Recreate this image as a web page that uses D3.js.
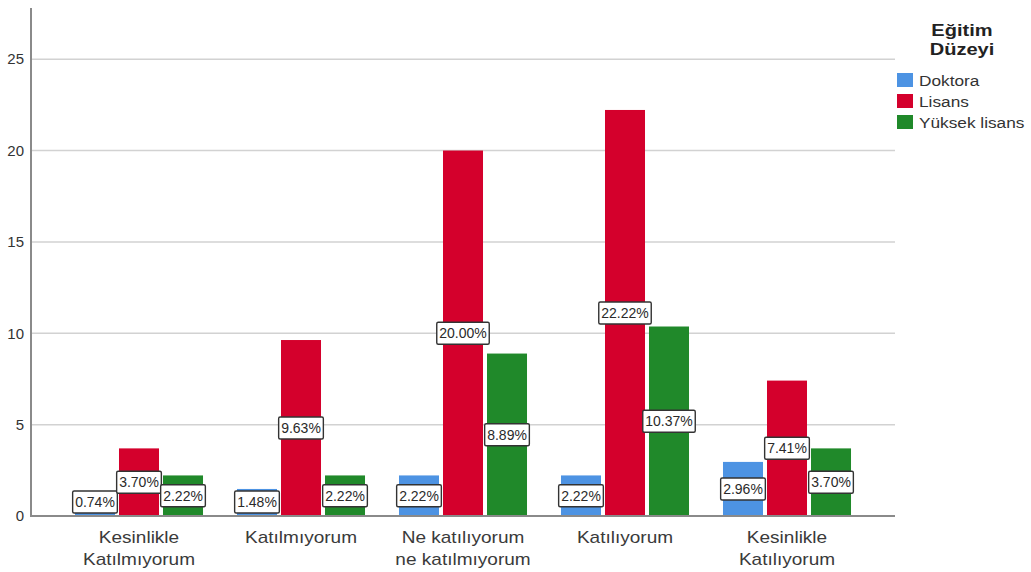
<!DOCTYPE html>
<html><head><meta charset="utf-8">
<script src="https://cdn.jsdelivr.net/npm/d3@7"></script>
<style>
html,body{margin:0;padding:0;background:#fff;}
svg{display:block;font-family:"Liberation Sans",Arial,sans-serif;}
</style></head>
<body>
<svg id="chart" width="1031" height="572"></svg>
<script>
const categories = [["Kesinlikle","Katılmıyorum"],["Katılmıyorum"],["Ne katılıyorum","ne katılmıyorum"],["Katılıyorum"],["Kesinlikle","Katılıyorum"]];
const categoryKeys = ["KK","K","N","Ka","KKa"];
const seriesNames = ["Doktora","Lisans","Yüksek lisans"];
const doktora = [0.74, 1.48, 2.22, 2.22, 2.96];
const lisans = [3.70, 9.63, 20.00, 22.22, 7.41];
const yuksekLisans = [2.22, 2.22, 8.89, 10.37, 3.70];
const yTicks = [0, 5, 10, 15, 20, 25];
const legendTitle = ["Eğitim","Düzeyi"];
const colors = ["#4d93e3", "#d4002c", "#20892a"];

const seriesValues = [doktora, lisans, yuksekLisans];
const svg = d3.select("#chart");

const axisX = 31, plotRight = 895, baseY = 516, topY = 8;
const y = d3.scaleLinear().domain([0, 27.8]).range([baseY, topY]);
const x0 = d3.scaleBand().domain(categoryKeys).range([58, 868]).padding(0);
const x1 = d3.scaleBand().domain(seriesNames).range([0, x0.bandwidth()]).paddingInner(0.0909).paddingOuter(0.386);

// gridlines
svg.append("g").selectAll("line").data(yTicks.filter(d => d > 0)).join("line")
  .attr("x1", axisX).attr("x2", plotRight)
  .attr("y1", d => y(d)).attr("y2", d => y(d))
  .attr("stroke", "#d2d2d2").attr("stroke-width", 1.5);

// y axis
const yAxis = d3.axisLeft(y).tickValues(yTicks).tickSize(0).tickPadding(7);
const gy = svg.append("g").attr("transform", `translate(${axisX},0)`).call(yAxis);
gy.select(".domain").remove();
gy.selectAll("text").attr("font-size", 15).attr("fill", "#333").attr("font-family", "Liberation Sans, Arial, sans-serif");

// bars
const rows = categoryKeys.map((k, i) => ({key: k, values: seriesNames.map((s, j) => ({s, j, v: seriesValues[j][i]}))}));
const groups = svg.append("g").selectAll("g").data(rows).join("g")
  .attr("transform", d => `translate(${x0(d.key)},0)`);
groups.selectAll("rect").data(d => d.values).join("rect")
  .attr("x", d => x1(d.s)).attr("width", x1.bandwidth())
  .attr("y", d => y(d.v)).attr("height", d => baseY - y(d.v))
  .attr("fill", d => colors[d.j]);

// axis lines
svg.append("line").attr("x1", axisX).attr("x2", axisX).attr("y1", topY).attr("y2", baseY + 1)
  .attr("stroke", "#8a8a8a").attr("stroke-width", 2);
svg.append("line").attr("x1", axisX).attr("x2", plotRight).attr("y1", baseY).attr("y2", baseY)
  .attr("stroke", "#8a8a8a").attr("stroke-width", 2);

// value labels
groups.each(function(row) {
  const g = d3.select(this);
  row.values.forEach(d => {
    const cx = x1(d.s) + x1.bandwidth() / 2;
    const cy = Math.min((y(d.v) + baseY) / 2, baseY - 14);
    const lg = g.append("g").attr("transform", `translate(${cx},${cy})`);
    const t = lg.append("text").text(d.v.toFixed(2) + "%")
      .attr("text-anchor", "middle").attr("dy", "0.36em")
      .attr("font-size", 14).attr("fill", "#2a2a2a");
    const w = t.node().getComputedTextLength() + 5;
    lg.insert("rect", "text").attr("x", -w / 2).attr("y", -11).attr("width", w).attr("height", 22)
      .attr("fill", "#fff").attr("stroke", "#333").attr("stroke-width", 1.4).attr("rx", 1.5);
  });
});

// category labels
const cat = svg.append("g").selectAll("g").data(categoryKeys).join("g")
  .attr("transform", (d) => `translate(${x0(d) + x0.bandwidth() / 2},0)`);
cat.each(function(d, i) {
  categories[i].forEach((line, li) => {
    d3.select(this).append("text")
      .attr("transform", `translate(0,${543 + li * 22}) scale(1.12,1)`)
      .attr("text-anchor", "middle").attr("font-size", 17).attr("fill", "#3a3a3a")
      .text(line);
  });
});

// legend
const lg = svg.append("g");
legendTitle.forEach((line, i) => {
  lg.append("text").attr("transform", `translate(962,${36 + i * 19}) scale(1.18,1)`)
    .attr("text-anchor", "middle").attr("font-size", 17).attr("font-weight", "bold").attr("fill", "#222")
    .text(line);
});
seriesNames.forEach((s, i) => {
  const yy = 73 + i * 21;
  lg.append("rect").attr("x", 897).attr("y", yy).attr("width", 16).attr("height", 14).attr("fill", colors[i]);
  lg.append("text").attr("transform", `translate(919,${yy + 13}) scale(1.15,1)`)
    .attr("font-size", 15).attr("fill", "#333").text(s);
});
</script>
</body></html>
